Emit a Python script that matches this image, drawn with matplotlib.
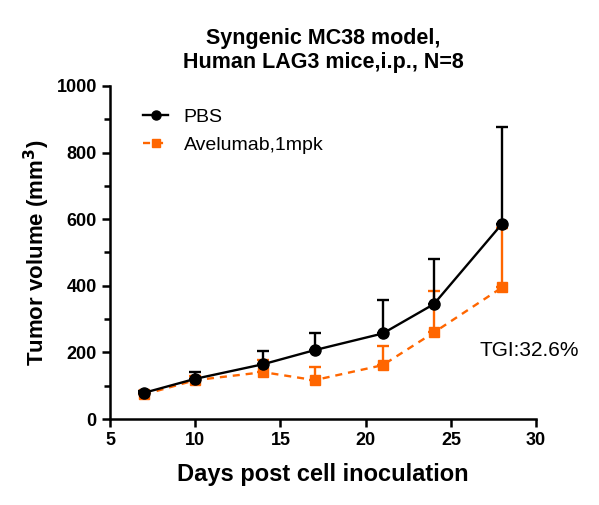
import numpy as np
import matplotlib
matplotlib.use("Agg")
import matplotlib.pyplot as plt
from matplotlib.ticker import MultipleLocator
from matplotlib.lines import Line2D

plt.rcParams['font.family'] = ['Liberation Sans', 'DejaVu Sans']

days = [7, 10, 14, 17, 21, 24, 28]
pbs_mean = [79, 121, 165, 207, 257, 345, 586]
pbs_err = [4, 20, 38, 52, 101, 136, 291]
ave_mean = [74, 117, 141, 117, 162, 260, 395]
ave_err = [6, 12, 36, 40, 56, 123, 180]

fig = plt.figure(figsize=(5.99, 5.05), dpi=100)
ax = fig.add_axes([0.1836, 0.170, 0.7114, 0.660])

orange = '#FF6600'
ave_ls = (0, (3, 2.5))
ax.errorbar(days, ave_mean, yerr=[np.zeros(len(ave_err)), ave_err],
            color=orange, ecolor=orange, marker='s', markersize=7.5,
            linestyle=ave_ls, linewidth=1.7, elinewidth=1.7,
            capsize=4, capthick=1.7, zorder=2)
ax.errorbar(days, pbs_mean, yerr=[np.zeros(len(pbs_err)), pbs_err],
            color='black', ecolor='black', marker='o', markersize=8,
            linestyle='-', linewidth=1.7, elinewidth=1.7,
            capsize=4, capthick=1.7, zorder=3)

ax.set_xlim(5, 30)
ax.set_ylim(0, 1000)
ax.xaxis.set_major_locator(MultipleLocator(5))
ax.yaxis.set_major_locator(MultipleLocator(200))
ax.yaxis.set_minor_locator(MultipleLocator(100))

for s in ['top', 'right']:
    ax.spines[s].set_visible(False)
for s in ['left', 'bottom']:
    ax.spines[s].set_linewidth(1.8)
ax.tick_params(which='major', width=1.8, length=6, labelsize=13)
ax.tick_params(which='minor', width=1.8, length=4)
for lab in ax.get_xticklabels() + ax.get_yticklabels():
    lab.set_fontweight('bold')

ax.set_xlabel('Days post cell inoculation', fontsize=17, fontweight='bold', labelpad=10)
ax.set_ylabel('Tumor volume (mm$^\\mathbf{3}$)', fontsize=16, fontweight='bold', labelpad=3)
ax.set_title('Syngenic MC38 model,\nHuman LAG3 mice,i.p., N=8', fontsize=15.5,
             fontweight='bold', pad=13)

ax.text(26.7, 205, 'TGI:32.6%', fontsize=15, va='center', ha='left')

handles = [
    Line2D([], [], color='black', marker='o', markersize=6.5, linewidth=1.7),
    Line2D([], [], color=orange, marker='s', markersize=6, linewidth=1.7,
           linestyle=ave_ls),
]
ax.legend(handles, ['PBS', 'Avelumab,1mpk'], loc='upper left', frameon=False,
          fontsize=14, bbox_to_anchor=(0.059, 0.955), handlelength=1.3,
          handletextpad=0.8, borderaxespad=0)

fig.savefig('out.png', dpi=100)
